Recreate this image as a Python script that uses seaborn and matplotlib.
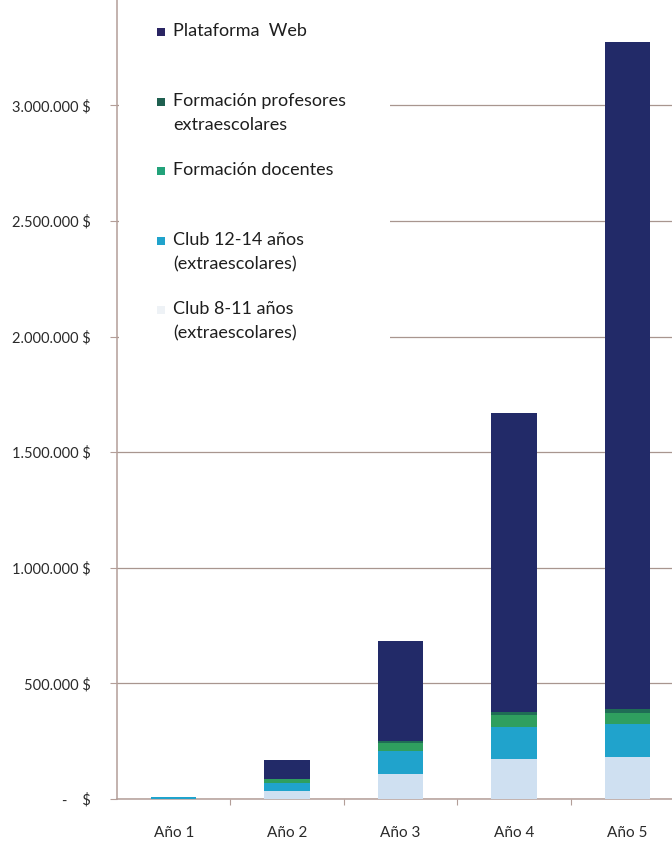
import matplotlib
matplotlib.use("Agg")
import matplotlib.pyplot as plt
from matplotlib.patches import Rectangle
import seaborn as sns
import numpy as np

# Annual income by line of business (USD)
years = ["Año 1", "Año 2", "Año 3", "Año 4", "Año 5"]
club_8_11 = [2000, 36000, 108000, 172000, 180000]
club_12_14 = [6000, 32000, 100000, 141000, 144000]
formacion_docentes = [0, 17000, 35000, 50000, 50000]
formacion_profesores = [0, 0, 10000, 15000, 14000]
plataforma_web = [0, 84000, 430000, 1292000, 2886000]

series_names = ["Club 8-11 años\n(extraescolares)",
                "Club 12-14 años\n(extraescolares)",
                "Formación docentes",
                "Formación profesores\nextraescolares",
                "Plataforma  Web"]
series_values = [club_8_11, club_12_14, formacion_docentes,
                 formacion_profesores, plataforma_web]
series_colors = ["#cfe0f1", "#20a3cc", "#2f9f5f", "#1f6d55", "#222a68"]
legend_colors = ["#eef2f6", "#20a3cc", "#22a27a", "#1f6050", "#2a2563"]

y_ticks = [0, 500000, 1000000, 1500000, 2000000, 2500000, 3000000]

sns.set_style("white")
plt.rcParams["font.family"] = ["Lato", "DejaVu Sans"]

W, H = 672, 842
fig = plt.figure(figsize=(W / 100, H / 100), dpi=100)
ax_left, ax_right, ax_zero, px_per_500k = 117, 684, 799, 115.6
ymax = 3500000
top_px = ax_zero - ymax / 500000 * px_per_500k
ax = fig.add_axes([ax_left / W, (H - ax_zero) / H,
                   (ax_right - ax_left) / W, (ax_zero - top_px) / H])

bottom = np.zeros(len(years))
for vals, col in zip(series_values, series_colors):
    sns.barplot(x=years, y=vals, bottom=bottom, color=col, width=0.4,
                ax=ax, saturation=1, edgecolor="none", linewidth=0,
                zorder=3)
    bottom = bottom + np.array(vals)

ax.set_xlim(-0.5, len(years) - 0.5)
ax.set_ylim(0, ymax)

# Grid and axes
grid_col = "#a8968f"
ax.set_yticks(y_ticks)
ax.yaxis.grid(True, color=grid_col, linewidth=0.9, zorder=1)
ax.xaxis.grid(False)
for s in ["top", "right"]:
    ax.spines[s].set_visible(False)
for s in ["left", "bottom"]:
    ax.spines[s].set_color("#b39e98")
    ax.spines[s].set_linewidth(1.1)


def money(v):
    if v == 0:
        return "-    $"
    return f"{int(v):,}".replace(",", ".") + " $"


ax.set_yticklabels([money(v) for v in y_ticks], fontsize=10.5, color="#2a2a2a")
ax.tick_params(axis="y", which="major", left=True, length=5, width=0.8,
               color="#b39e98", pad=14)
ax.set_xticks(range(len(years)))
ax.set_xticklabels(years, fontsize=11, color="#2a2a2a")
ax.tick_params(axis="x", which="major", bottom=False, pad=16)
ax.set_xticks(np.arange(0.5, len(years) - 0.5, 1.0), minor=True)
ax.tick_params(axis="x", which="minor", bottom=True, length=4, width=0.8,
               color="#b39e98")
ax.set_xlabel("")
ax.set_ylabel("")

# Legend panel (white background over the gridlines)
fig.patches.append(Rectangle((119 / W, (H - 352) / H), (390 - 119) / W,
                             352 / H, transform=fig.transFigure,
                             facecolor="white", edgecolor="none", zorder=2))

legend_rows = [31, 101, 170, 240, 309]
order = [4, 3, 2, 1, 0]
for row_y, idx in zip(legend_rows, order):
    fig.patches.append(Rectangle((157 / W, (H - row_y - 5) / H), 8 / W, 8 / H,
                                 transform=fig.transFigure,
                                 facecolor=legend_colors[idx],
                                 edgecolor="none", zorder=3))
    for k, line in enumerate(series_names[idx].split("\n")):
        fig.text(173 / W, (H - row_y - 24 * k) / H, line, fontsize=13,
                 color="#1e1e1e", va="center", ha="left", zorder=4)

fig.savefig("out.png", dpi=100, facecolor="white")
